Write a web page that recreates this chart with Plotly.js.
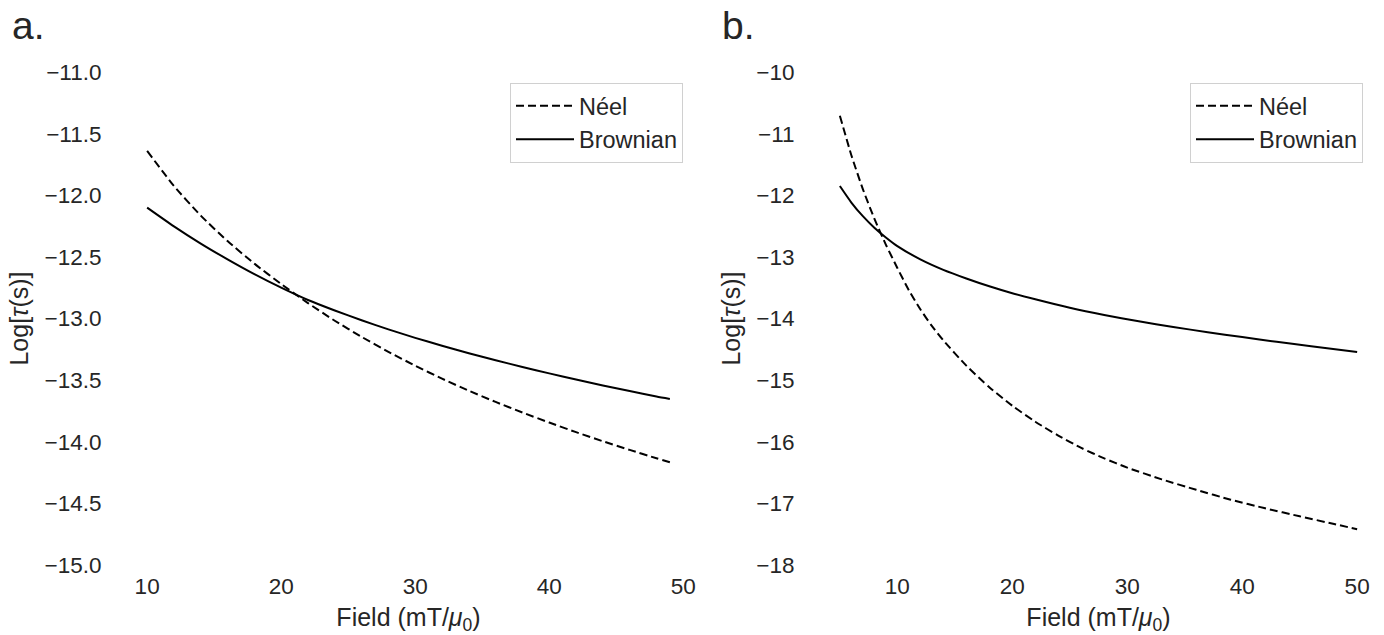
<!DOCTYPE html>
<html>
<head>
<meta charset="utf-8">
<script src="https://cdn.plot.ly/plotly-3.0.1.min.js"></script>
<style>html,body{margin:0;padding:0;background:#fff;}#chart{width:1384px;height:635px;}</style>
</head>
<body>
<div id="chart"></div>
<script>
// Panel a
const fieldA = [10, 12, 14, 16, 18, 20, 22, 24, 26, 28, 30, 32, 34, 36, 38, 40, 42, 44, 46, 48, 49];
const neelA = [-11.64, -11.925, -12.165, -12.372, -12.555, -12.72, -12.875, -13.018, -13.149, -13.27, -13.383, -13.488, -13.586, -13.677, -13.763, -13.844, -13.922, -13.996, -14.066, -14.134, -14.167];
const brownA = [-12.10, -12.252, -12.392, -12.52, -12.64, -12.75, -12.85, -12.935, -13.014, -13.088, -13.157, -13.221, -13.282, -13.339, -13.393, -13.445, -13.495, -13.543, -13.589, -13.633, -13.653];
// Panel b
const fieldBN = [5, 6, 7, 8, 9, 10, 11, 12, 13, 14, 16, 18, 20, 22, 24, 26, 28, 30, 33, 36, 39, 42, 45, 48, 50];
const neelB = [-10.71, -11.35, -11.90, -12.38, -12.80, -13.18, -13.54, -13.85, -14.12, -14.355, -14.765, -15.115, -15.415, -15.675, -15.90, -16.10, -16.27, -16.42, -16.61, -16.78, -16.94, -17.08, -17.21, -17.335, -17.42];
const fieldBB = [5, 6, 7, 8, 9, 10, 12, 14, 16, 18, 20, 22, 25, 28, 31, 34, 37, 40, 43, 46, 50];
const brownB = [-11.85, -12.118, -12.34, -12.527, -12.685, -12.825, -13.04, -13.21, -13.35, -13.477, -13.59, -13.688, -13.826, -13.943, -14.045, -14.138, -14.222, -14.302, -14.378, -14.451, -14.545];

const seriesNames = ['Néel', 'Brownian'];
const xTicks = [10, 20, 30, 40, 50];
const yTicksA = [-15, -14.5, -14, -13.5, -13, -12.5, -12, -11.5, -11];
const yTicksB = [-18, -17, -16, -15, -14, -13, -12, -11, -10];
const panelLabels = ['a.', 'b.'];

const TXT = '#262626';
const FONT = 'Liberation Sans, Arial, sans-serif';
const dashStyle = {color: '#000', width: 2, dash: '8px,4px', shape: 'spline', smoothing: 0.6};
const solidStyle = {color: '#000', width: 2, shape: 'spline', smoothing: 0.6};

const traces = [
  {x: fieldA, y: neelA, mode: 'lines', name: seriesNames[0], line: dashStyle, xaxis: 'x', yaxis: 'y', legend: 'legend'},
  {x: fieldA, y: brownA, mode: 'lines', name: seriesNames[1], line: solidStyle, xaxis: 'x', yaxis: 'y', legend: 'legend'},
  {x: fieldBN, y: neelB, mode: 'lines', name: seriesNames[0], line: dashStyle, xaxis: 'x2', yaxis: 'y2', legend: 'legend2'},
  {x: fieldBB, y: brownB, mode: 'lines', name: seriesNames[1], line: solidStyle, xaxis: 'x2', yaxis: 'y2', legend: 'legend2'}
];

const L = 121, R = 1, T = 72, B = 70, W = 1384;
const PW = W - L - R;
const px = v => (v - L) / PW;

function xax(domain, range) {
  return {
    domain: domain, range: range, tickvals: xTicks, ticktext: xTicks.map(String),
    showgrid: false, zeroline: false, showline: false,
    ticks: 'outside', ticklen: 1, tickcolor: 'rgba(0,0,0,0)',
    tickfont: {family: FONT, size: 22.5, color: TXT},
    title: {text: 'Field (mT/<i>μ</i><sub>0</sub>)', font: {family: FONT, size: 25, color: TXT}, standoff: 23},
    automargin: false
  };
}
function yax(range, ticks, fmt, anchor) {
  return {
    domain: [0, 1], range: range, tickvals: ticks, tickformat: fmt, anchor: anchor,
    showgrid: false, zeroline: false, showline: false,
    ticks: 'outside', ticklen: 14, tickcolor: 'rgba(0,0,0,0)',
    tickfont: {family: FONT, size: 22.5, color: TXT},
    title: {text: 'Log[<i>τ</i>(s)]', font: {family: FONT, size: 25, color: TXT}, standoff: 8},
    automargin: false
  };
}

const legendBase = {
  bgcolor: 'rgba(255,255,255,0.9)', bordercolor: '#d0d0d0', borderwidth: 1,
  font: {family: FONT, size: 23.5, color: TXT}, xanchor: 'right', yanchor: 'top',
  itemwidth: 58
};

const layout = {
  width: 1384, height: 635,
  margin: {l: L, r: R, t: T, b: B},
  paper_bgcolor: '#fff', plot_bgcolor: '#fff',
  showlegend: true,
  xaxis: xax([0, px(696)], [8.05, 50.95]),
  yaxis: yax([-15, -11], yTicksA, '.1f', 'x'),
  xaxis2: xax([px(814), 1], [2.75, 52.25]),
  yaxis2: yax([-18, -10], yTicksB, 'd', 'x2'),
  legend: Object.assign({}, legendBase, {x: px(683), y: (565 - 83) / 493}),
  legend2: Object.assign({}, legendBase, {x: px(1363), y: (565 - 83) / 493}),
  annotations: [
    {text: panelLabels[0], xref: 'paper', yref: 'paper', x: px(10), y: (565 - 26) / 493, xanchor: 'left', yanchor: 'middle', showarrow: false, font: {family: FONT, size: 39, color: TXT}},
    {text: panelLabels[1], xref: 'paper', yref: 'paper', x: px(720), y: (565 - 26) / 493, xanchor: 'left', yanchor: 'middle', showarrow: false, font: {family: FONT, size: 39, color: TXT}}
  ]
};

Plotly.newPlot('chart', traces, layout, {displayModeBar: false, staticPlot: true});
</script>
</body>
</html>
